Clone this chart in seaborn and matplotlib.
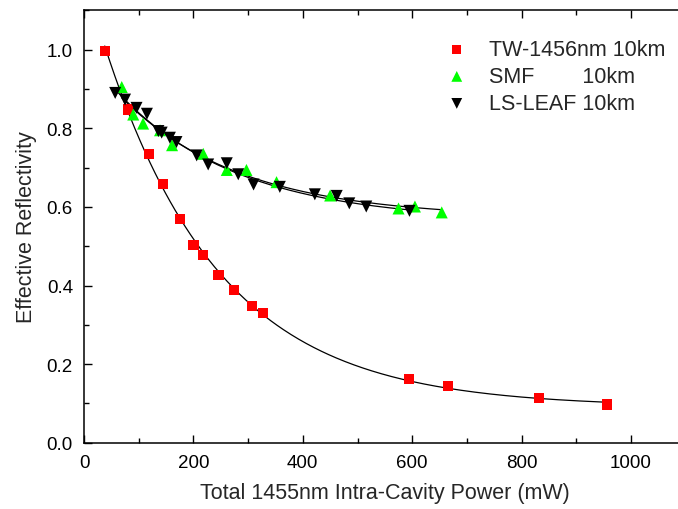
import numpy as np
import matplotlib
matplotlib.use('Agg')
import matplotlib.pyplot as plt
from matplotlib.ticker import MultipleLocator, FormatStrFormatter
import seaborn as sns

# data (power in mW, effective reflectivity)
tw_power = [38, 81, 119, 145, 176, 200, 218, 246, 274, 307, 327, 594, 665, 832, 956]
tw_refl = [0.997, 0.848, 0.735, 0.659, 0.569, 0.503, 0.477, 0.427, 0.389, 0.348, 0.330,
           0.162, 0.145, 0.114, 0.097]

smf_power = [69, 90, 108, 139, 161, 218, 261, 297, 352, 450, 575, 605, 654]
smf_refl = [0.905, 0.835, 0.812, 0.795, 0.757, 0.735, 0.694, 0.694, 0.663, 0.629,
            0.596, 0.601, 0.586]

leaf_power = [57, 75, 96, 115, 136, 142, 157, 169, 206, 227, 261, 282, 310, 358,
              422, 462, 485, 516, 595]
leaf_refl = [0.890, 0.873, 0.852, 0.837, 0.793, 0.789, 0.776, 0.765, 0.731, 0.708,
             0.711, 0.683, 0.657, 0.651, 0.632, 0.628, 0.609, 0.601, 0.590]

labels = ['TW-1456nm 10km', 'SMF        10km', 'LS-LEAF 10km']
colors = ['#ff0000', '#00ff00', '#000000']
markers = ['s', '^', 'v']


def exp_decay_fit(x, y):
    # y = y0 + A*exp(-x/t), grid search over t, linear least squares for y0, A
    x = np.asarray(x, float)
    y = np.asarray(y, float)
    best = None
    for t in np.linspace(20, 1500, 3000):
        M = np.column_stack([np.ones_like(x), np.exp(-x / t)])
        coef = np.linalg.lstsq(M, y, rcond=None)[0]
        err = np.sum((M @ coef - y) ** 2)
        if best is None or err < best[0]:
            best = (err, t, coef)
    _, t, (y0, a) = best
    xs = np.linspace(x.min(), x.max(), 400)
    return xs, y0 + a * np.exp(-xs / t)


sns.set_style('ticks')
plt.rcParams['font.family'] = ['Liberation Sans', 'DejaVu Sans']

fig = plt.figure(figsize=(6.78, 5.10), dpi=100)
ax = fig.add_axes([84 / 678, 66.3 / 510, 601.7 / 678, 432.3 / 510])

series = [(tw_power, tw_refl), (smf_power, smf_refl), (leaf_power, leaf_refl)]
sizes = [55, 75, 75]

# fitted curves
for xp, yp in series:
    xs, ys = exp_decay_fit(xp, yp)
    sns.lineplot(x=xs, y=ys, color='black', lw=0.9, ax=ax, legend=False, zorder=2)

# data points
for (xp, yp), lab, c, m, s in zip(series, labels, colors, markers, sizes):
    sns.scatterplot(x=xp, y=yp, marker=m, color=c, s=s, edgecolor='none',
                    label=lab, ax=ax, zorder=3)

ax.set_xticks([0, 200, 400, 600, 800, 1000])
ax.xaxis.set_minor_locator(MultipleLocator(100))
ax.yaxis.set_major_locator(MultipleLocator(0.2))
ax.yaxis.set_minor_locator(MultipleLocator(0.1))
ax.yaxis.set_major_formatter(FormatStrFormatter('%.1f'))
ax.set_xlim(0, 1100)
ax.set_ylim(0, 1.1)

ax.tick_params(which='both', direction='in', top=True, right=True, width=1.0,
               labelsize=13.5, pad=8, colors='black')
ax.tick_params(which='major', length=6)
ax.tick_params(which='minor', length=3.5)
for sp in ax.spines.values():
    sp.set_linewidth(1.1)
    sp.set_color('black')

ax.set_xlabel('Total 1455nm Intra-Cavity Power (mW)', fontsize=15.5, labelpad=8)
ax.set_ylabel('Effective Reflectivity', fontsize=15.5, labelpad=7)

ax.legend(loc='upper left', bbox_to_anchor=(446 / 678, 1 - 40 / 510),
          bbox_transform=fig.transFigure, frameon=False, fontsize=15.5,
          borderpad=0, borderaxespad=0, handlelength=1.0, handletextpad=1.0,
          labelspacing=0.28, markerscale=0.9)

fig.savefig('out.png', dpi=100)
plt.close(fig)
